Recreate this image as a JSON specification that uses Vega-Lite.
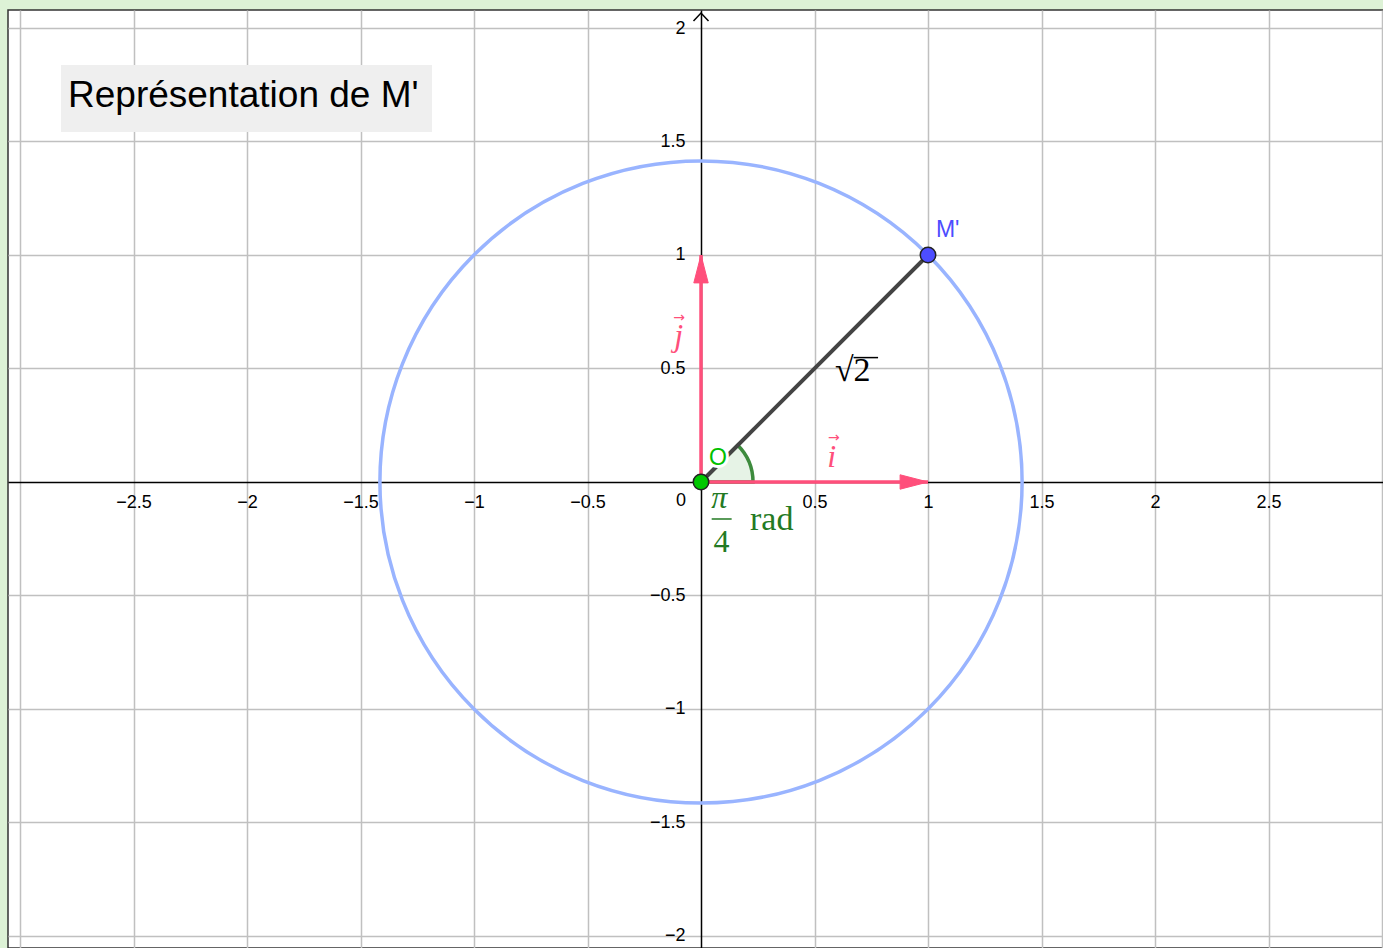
{
  "$schema": "https://vega.github.io/schema/vega-lite/v6.json",
  "width": 1375,
  "height": 938,
  "autosize": {"type": "none"},
  "padding": {"left": 8, "top": 10, "right": 0, "bottom": 0},
  "background": "#ddf2d6",
  "config": {"view": {"fill": "#ffffff", "stroke": "#333333", "strokeWidth": 1.5}},
  "datasets": {
    "titlebox": [{"x": -2.8194, "x2": -1.185, "y": 1.837, "y2": 1.5419}],
    "title": [{"x": -2.7885, "y": 1.6507, "t": "Représentation de M'"}],
    "circle": [{"x": 0, "y": 0}],
    "sector": [{"x": 0, "y": 0}],
    "vectors": [
      {"name": "i", "k": 0, "x": 0, "y": 0},
      {"name": "i", "k": 1, "x": 1, "y": 0},
      {"name": "j", "k": 0, "x": 0, "y": 0},
      {"name": "j", "k": 1, "x": 0, "y": 1}
    ],
    "headI": [{"x": 1, "y": 0}],
    "headJ": [{"x": 0, "y": 1}],
    "segment": [{"x": 0, "y": 0}, {"x": 1, "y": 1}],
    "points": [{"name": "O", "x": 0, "y": 0}, {"name": "M'", "x": 1, "y": 1}],
    "pointLabels": [{"name": "O", "x": 0.035, "y": 0.075, "t": "O"}, {"name": "M'", "x": 1.035, "y": 1.079, "t": "M'"}],
    "yarrow": [{"x": 0, "y": 2.066}],
    "zero": [{"x": -0.066, "y": -0.0837, "t": "0"}],
    "sqrt2": [{"x": 0.59, "y": 0.445, "t": "√2"}],
    "sqrtbar": [{"x": 0.672, "x2": 0.78, "y": 0.548}],
    "vecNames": [{"x": 0.576, "y": 0.0674, "t": "i"}, {"x": -0.098, "y": 0.599, "t": "j"}],
    "vecArrows": [{"x": 0.585, "y": 0.192, "t": "→"}, {"x": -0.097, "y": 0.722, "t": "→"}],
    "frac": [{"x": 0.080, "y": -0.1145, "t": "π"}],
    "four": [{"x": 0.0903, "y": -0.307, "t": "4"}],
    "fracbar": [{"x": 0.047, "x2": 0.135, "y": -0.163}],
    "rad": [{"x": 0.216, "y": -0.2115, "t": "rad"}]
  },
  "encoding": {
    "x": {
      "field": "x",
      "type": "quantitative",
      "scale": {"domain": [-3.0529, 3.0044], "nice": false, "zero": false},
      "axis": {
        "orient": "bottom",
        "offset": -466,
        "values": [-3, -2.5, -2, -1.5, -1, -0.5, 0.5, 1, 1.5, 2, 2.5, 3],
        "format": "~g",
        "grid": true,
        "gridColor": "#c0c0c0",
        "gridWidth": 1.5,
        "gridOpacity": 1,
        "ticks": false,
        "tickSize": 0,
        "domain": true,
        "domainColor": "#000000",
        "domainWidth": 1.5,
        "labelExpr": "datum.value <= -3 || datum.value >= 3 ? '' : replace(datum.label, '-', '−')",
        "labelFont": "Liberation Sans",
        "labelFontSize": 18,
        "labelColor": "#000000",
        "labelPadding": 11,
        "labelFlush": false,
        "labelOverlap": false,
        "labelBound": false,
        "title": null,
        "zindex": 0
      }
    },
    "y": {
      "field": "y",
      "type": "quantitative",
      "scale": {"domain": [-2.0529, 2.0793], "nice": false, "zero": false},
      "axis": {
        "orient": "left",
        "offset": -693,
        "values": [-2, -1.5, -1, -0.5, 0.5, 1, 1.5, 2],
        "format": "~g",
        "grid": true,
        "gridColor": "#c0c0c0",
        "gridWidth": 1.5,
        "gridOpacity": 1,
        "ticks": false,
        "tickSize": 0,
        "domain": true,
        "domainColor": "#000000",
        "domainWidth": 1.5,
        "labelExpr": "replace(datum.label, '-', '−')",
        "labelFont": "Liberation Sans",
        "labelFontSize": 18,
        "labelColor": "#000000",
        "labelPadding": 16,
        "labelOverlap": false,
        "labelBound": false,
        "labelFlush": false,
        "title": null,
        "zindex": 0
      }
    }
  },
  "layer": [
    {
      "data": {"name": "titlebox"},
      "mark": {"type": "rect", "fill": "#efefef", "stroke": null},
      "encoding": {"x2": {"field": "x2"}, "y2": {"field": "y2"}}
    },
    {
      "data": {"name": "title"},
      "mark": {"type": "text", "align": "left", "baseline": "alphabetic", "font": "Liberation Sans", "fontSize": 37, "color": "#000000"},
      "encoding": {"text": {"field": "t"}}
    },
    {
      "data": {"name": "circle"},
      "mark": {"type": "point", "shape": "circle", "filled": false, "size": 412420, "stroke": "#99b4ff", "strokeWidth": 3.5, "opacity": 1}
    },
    {
      "data": {"name": "sector"},
      "mark": {"type": "arc", "theta": 0.7854, "theta2": 1.5708, "radius": 52, "radius2": 0, "fill": "#339933", "fillOpacity": 0.12, "stroke": "#3d8b3d", "strokeWidth": 3.5}
    },
    {
      "data": {"name": "vectors"},
      "mark": {"type": "line", "color": "#ff4f7b", "strokeWidth": 3.5},
      "encoding": {"detail": {"field": "name"}, "order": {"field": "k"}}
    },
    {
      "data": {"name": "headI"},
      "mark": {"type": "point", "shape": "M0,0 L-0.93,-0.24 L-0.93,0.24 Z", "size": 3600, "filled": true, "fill": "#ff4f7b", "stroke": "#ff4f7b", "strokeWidth": 1, "opacity": 1}
    },
    {
      "data": {"name": "headJ"},
      "mark": {"type": "point", "shape": "M0,0 L-0.24,0.93 L0.24,0.93 Z", "size": 3600, "filled": true, "fill": "#ff4f7b", "stroke": "#ff4f7b", "strokeWidth": 1, "opacity": 1}
    },
    {
      "data": {"name": "segment"},
      "mark": {"type": "line", "color": "#444444", "strokeWidth": 4}
    },
    {
      "data": {"name": "yarrow"},
      "mark": {"type": "point", "shape": "M-1,1.07 L0,0 L1,1.07", "size": 225, "filled": false, "stroke": "#000000", "strokeWidth": 1.5, "opacity": 1}
    },
    {
      "data": {"name": "pointLabels"},
      "mark": {"type": "text", "align": "left", "baseline": "alphabetic", "font": "Liberation Sans", "fontSize": 23, "fill": "#ffffff", "stroke": "#ffffff", "strokeWidth": 6},
      "encoding": {"text": {"field": "t"}}
    },
    {
      "data": {"name": "points"},
      "mark": {"type": "point", "shape": "circle", "filled": true, "size": 240, "stroke": "#222222", "strokeWidth": 1.5, "opacity": 1},
      "encoding": {"fill": {"field": "name", "type": "nominal", "scale": {"domain": ["O", "M'"], "range": ["#00c800", "#4d4dff"]}, "legend": null}}
    },
    {
      "data": {"name": "pointLabels"},
      "mark": {"type": "text", "align": "left", "baseline": "alphabetic", "font": "Liberation Sans", "fontSize": 23},
      "encoding": {"text": {"field": "t"}, "color": {"field": "name", "type": "nominal", "scale": {"domain": ["O", "M'"], "range": ["#00c000", "#4d4dff"]}, "legend": null}}
    },
    {
      "data": {"name": "zero"},
      "mark": {"type": "text", "align": "right", "baseline": "middle", "font": "Liberation Sans", "fontSize": 18, "color": "#000000"},
      "encoding": {"text": {"field": "t"}}
    },
    {
      "data": {"name": "sqrt2"},
      "mark": {"type": "text", "align": "left", "baseline": "alphabetic", "font": "Liberation Serif", "fontSize": 34, "color": "#000000"},
      "encoding": {"text": {"field": "t"}}
    },
    {
      "data": {"name": "sqrtbar"},
      "mark": {"type": "rule", "color": "#000000", "strokeWidth": 1.5},
      "encoding": {"x2": {"field": "x2"}}
    },
    {
      "data": {"name": "vecNames"},
      "mark": {"type": "text", "align": "center", "baseline": "alphabetic", "font": "Liberation Serif", "fontStyle": "italic", "fontSize": 32, "color": "#ff4f7b"},
      "encoding": {"text": {"field": "t"}}
    },
    {
      "data": {"name": "vecArrows"},
      "mark": {"type": "text", "align": "center", "baseline": "middle", "font": "DejaVu Sans", "fontSize": 14, "color": "#ff4f7b"},
      "encoding": {"text": {"field": "t"}}
    },
    {
      "data": {"name": "frac"},
      "mark": {"type": "text", "align": "center", "baseline": "alphabetic", "font": "Liberation Serif", "fontStyle": "italic", "fontSize": 32, "color": "#237a23"},
      "encoding": {"text": {"field": "t"}}
    },
    {
      "data": {"name": "four"},
      "mark": {"type": "text", "align": "center", "baseline": "alphabetic", "font": "Liberation Serif", "fontSize": 32, "color": "#237a23"},
      "encoding": {"text": {"field": "t"}}
    },
    {
      "data": {"name": "fracbar"},
      "mark": {"type": "rule", "color": "#237a23", "strokeWidth": 1.5},
      "encoding": {"x2": {"field": "x2"}}
    },
    {
      "data": {"name": "rad"},
      "mark": {"type": "text", "align": "left", "baseline": "alphabetic", "font": "Liberation Serif", "fontSize": 34, "color": "#237a23"},
      "encoding": {"text": {"field": "t"}}
    }
  ]
}
